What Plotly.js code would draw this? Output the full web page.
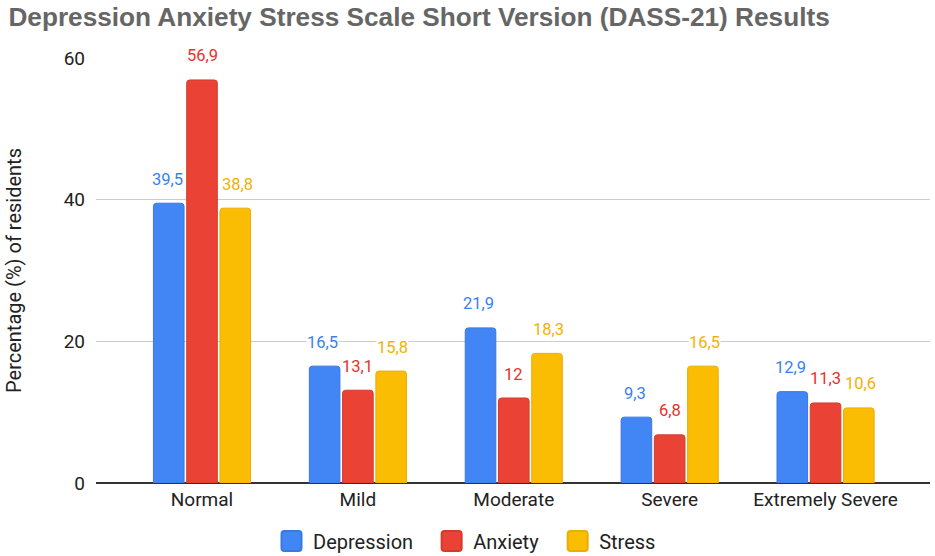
<!DOCTYPE html>
<html>
<head>
<meta charset="utf-8">
<script src="https://cdn.plot.ly/plotly-3.0.1.min.js"></script>
<style>html,body{margin:0;padding:0;background:#fff;}#chart{width:935px;height:556px;}</style>
</head>
<body>
<div id="chart"></div>
<script>
const categories = ["Normal", "Mild", "Moderate", "Severe", "Extremely Severe"];
const depression = [39.5, 16.5, 21.9, 9.3, 12.9];
const anxiety = [56.9, 13.1, 12, 6.8, 11.3];
const stress = [38.8, 15.8, 18.3, 16.5, 10.6];
const yTicks = [0, 20, 40, 60];

const seriesDefs = [
  {name: "Depression", values: depression, color: "#4285F4", line: "#3b78e0", label: "#3A7FF0", shift: -35},
  {name: "Anxiety", values: anxiety, color: "#EA4335", line: "#d63a2d", label: "#E8312A", shift: 0},
  {name: "Stress", values: stress, color: "#FBBC04", line: "#eaae00", label: "#F2B200", shift: 35}
];

const fmt = v => String(v).replace(".", ",");

const traces = seriesDefs.map(s => ({
  type: "bar",
  name: s.name,
  x: categories,
  y: s.values,
  marker: {color: s.color, line: {color: s.line, width: 1}},
  hoverinfo: "none"
}));

const annotations = [];
seriesDefs.forEach(s => {
  s.values.forEach((v, i) => {
    annotations.push({
      x: categories[i], y: v, xref: "x", yref: "y",
      text: fmt(v), showarrow: false,
      xshift: s.shift, yshift: 24, yanchor: "middle",
      font: {family: "Roboto", size: 16.5, color: s.label},
      bgcolor: "#ffffff", borderpad: 0
    });
  });
});

const axisFont = {family: "Roboto", size: 19, color: "#222222"};

const layout = {
  width: 935, height: 556,
  paper_bgcolor: "#ffffff", plot_bgcolor: "#ffffff",
  margin: {l: 96, r: 5, t: 58, b: 73},
  title: {
    text: "Depression Anxiety Stress Scale Short Version (DASS-21) Results",
    font: {family: "Liberation Sans, Arial, sans-serif", size: 26.2, color: "#666666", weight: "bold"},
    x: 0.009, xanchor: "left", xref: "container",
    y: 0.97, yanchor: "middle", yref: "container"
  },
  barmode: "group",
  bargap: 0.36,
  bargroupgap: 0.08,
  barcornerradius: 3,
  xaxis: {
    range: [-0.68, 4.67],
    showgrid: false,
    showline: false,
    zeroline: false,
    ticks: "",
    ticklabelstandoff: 3,
    tickfont: axisFont,
    fixedrange: true
  },
  yaxis: {
    range: [0, 60],
    tickvals: yTicks,
    ticktext: yTicks.map(String),
    showgrid: true,
    gridcolor: "#cccccc",
    gridwidth: 1,
    zeroline: true,
    zerolinecolor: "#333333",
    zerolinewidth: 2,
    showline: false,
    ticks: "",
    ticklabelstandoff: 10,
    tickfont: axisFont,
    title: {text: "Percentage (%) of residents", font: {family: "Roboto", size: 20, color: "#222222"}, standoff: 36},
    fixedrange: true
  },
  legend: {
    orientation: "h",
    xref: "container", x: 0.5, xanchor: "center",
    yref: "container", y: 0.027, yanchor: "middle",
    font: {family: "Roboto", size: 20, color: "#222222"},
    itemsizing: "constant",
    itemwidth: 33,
    traceorder: "normal"
  },
  annotations: annotations,
  showlegend: true
};

Plotly.newPlot("chart", traces, layout, {displayModeBar: false, staticPlot: true}).then(gd => {
  gd.querySelectorAll(".legend .legendpoints path").forEach(p => {
    p.setAttribute("d", "M10,7Q10,10 7,10H-7Q-10,10 -10,7V-7Q-10,-10 -7,-10H7Q10,-10 10,-7Z");
  });
  gd.querySelectorAll(".legend [clip-path]").forEach(el => el.removeAttribute("clip-path"));
  const extraGap = 12;
  const items = gd.querySelectorAll(".legend .traces");
  const n = items.length;
  items.forEach((g, i) => {
    const t = g.getAttribute("transform") || "translate(0,0)";
    const m = t.match(/translate\(\s*([-\d.]+)[ ,]+([-\d.]+)\s*\)/);
    if (m) {
      const nx = parseFloat(m[1]) + extraGap * i - extraGap * (n - 1) / 2 - 2;
      g.setAttribute("transform", "translate(" + nx + "," + m[2] + ")");
    }
  });
});
</script>
</body>
</html>
